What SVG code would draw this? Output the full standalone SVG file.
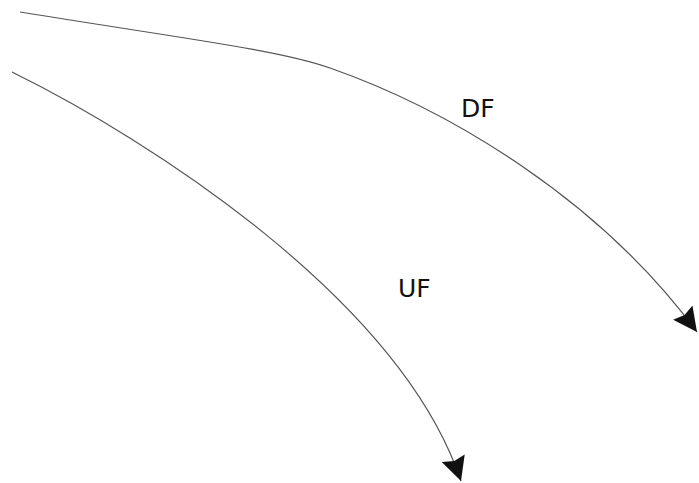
<svg xmlns="http://www.w3.org/2000/svg" width="699" height="483" viewBox="0 0 699 483">
<defs>
<style>
.c{fill:none;stroke:#555;stroke-width:1.2}
.t{font-family:"DejaVu Sans",sans-serif;font-size:25px;fill:#111}
</style>
<marker id="a" markerWidth="26" markerHeight="24" refX="24" refY="12" orient="auto" markerUnits="userSpaceOnUse">
<path d="M0,0 L24,12 L0,24 L3,12 Z" fill="#111"/>
</marker>
</defs>
<rect width="699" height="483" fill="#fff"/>
<g id="connectors">
<path class="c" d="M20,12 C180,38 280,50 330,68 C450,110 600,200 697,332" marker-end="url(#a)"/>
<path class="c" d="M12,72 C150,140 400,300 461,481" marker-end="url(#a)"/>
</g>
<g id="DF"><text class="t" x="461" y="117">DF</text></g>
<g id="UF"><text class="t" x="398" y="297">UF</text></g>
</svg>
